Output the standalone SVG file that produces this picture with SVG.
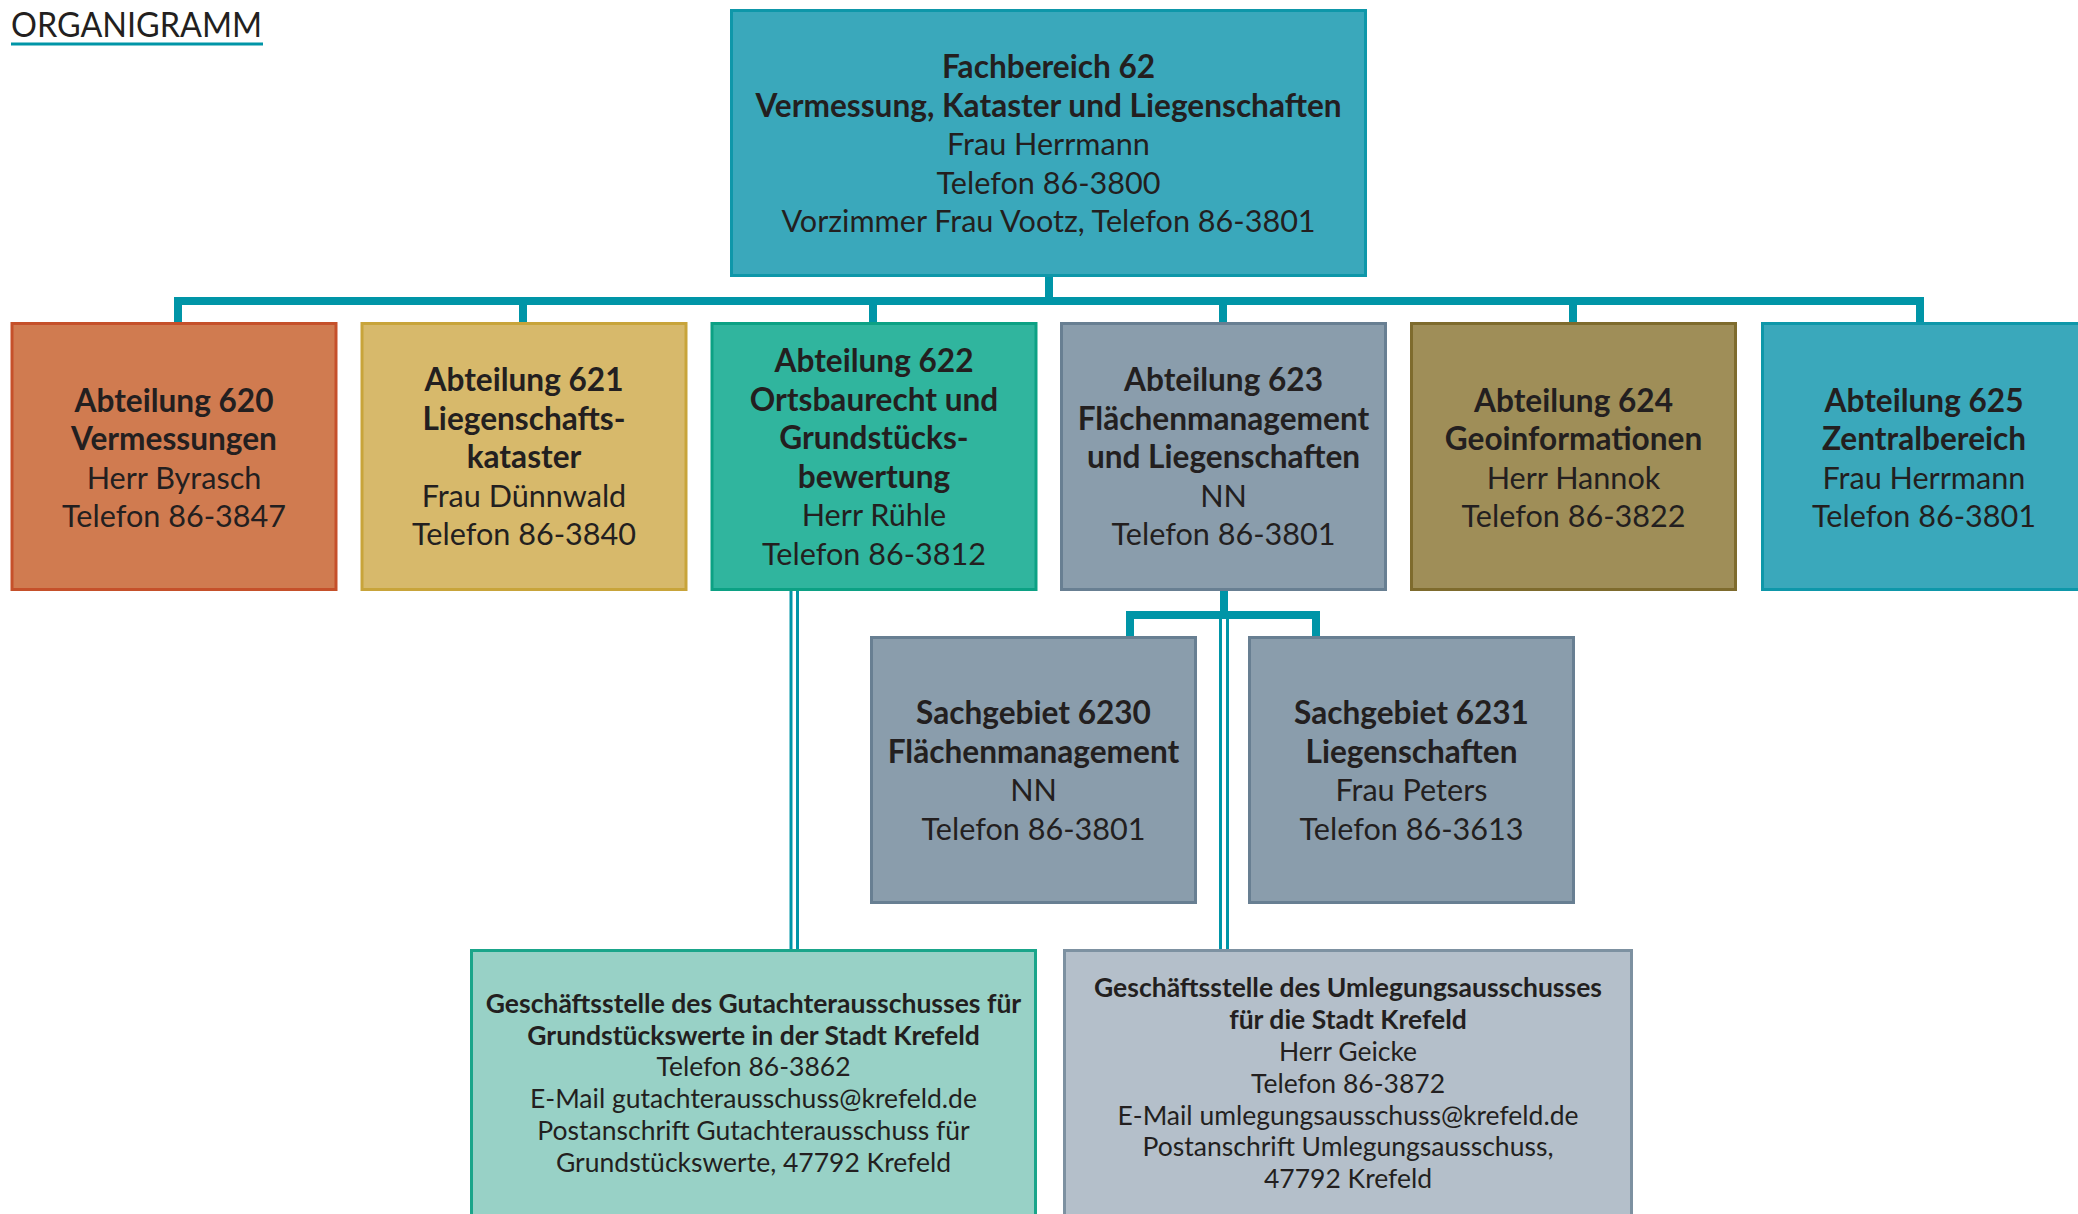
<svg xmlns="http://www.w3.org/2000/svg" width="2078" height="1214" viewBox="0 0 2078 1214">
<style>
text{font-family:Lato,"Open Sans","Liberation Sans",sans-serif;fill:#231f20;text-anchor:middle}
.m{font-size:30.6px}
.s{font-size:26.5px}
.m.b{font-size:31.6px}
.b{font-weight:700}
.box{stroke-width:3}
.c{fill:#0095a7}
</style>
<rect width="2078" height="1214" fill="#ffffff"/>
<g id="title">
<text x="11" y="37" style="text-anchor:start;font-size:34px" textLength="251" lengthAdjust="spacingAndGlyphs">ORGANIGRAMM</text>
<rect x="11" y="42.5" width="252" height="3" class="c"/>
</g>
<g id="connectors">
<rect class="c" x="1045" y="276" width="8" height="24"/>
<rect class="c" x="174" y="297" width="1750" height="8"/>
<rect class="c" x="174" y="300" width="8" height="23"/>
<rect class="c" x="519" y="300" width="8" height="23"/>
<rect class="c" x="869" y="300" width="8" height="23"/>
<rect class="c" x="1219" y="300" width="8" height="23"/>
<rect class="c" x="1569" y="300" width="8" height="23"/>
<rect class="c" x="1916" y="300" width="8" height="23"/>
<rect class="c" x="1220" y="589" width="8" height="25"/>
<rect class="c" x="1126" y="611" width="194" height="8"/>
<rect class="c" x="1126" y="611" width="8" height="26"/>
<rect class="c" x="1312" y="611" width="8" height="26"/>
<rect class="c" x="789.5" y="589" width="3" height="362"/>
<rect class="c" x="796" y="589" width="3" height="362"/>
<rect class="c" x="1219" y="617" width="3" height="334"/>
<rect class="c" x="1226" y="617" width="3" height="334"/>
</g>
<g id="fb62">
<rect class="box" x="731.5" y="10.5" width="634" height="265" fill="#3aa8bb" stroke="#0e97a9"/>
<text class="m b" x="1048.5" y="78">Fachbereich 62</text>
<text class="m b" x="1048.5" y="116.5">Vermessung, Kataster und Liegenschaften</text>
<text class="m" x="1048.5" y="155">Frau Herrmann</text>
<text class="m" x="1048.5" y="193.5">Telefon 86-3800</text>
<text class="m" x="1048.5" y="232">Vorzimmer Frau Vootz, Telefon 86-3801</text>
</g>
<g id="a620">
<rect class="box" x="12" y="323.5" width="324" height="266" fill="#d07b50" stroke="#c5502a"/>
<text class="m b" x="174" y="411.5">Abteilung 620</text>
<text class="m b" x="174" y="450">Vermessungen</text>
<text class="m" x="174" y="488.5">Herr Byrasch</text>
<text class="m" x="174" y="527">Telefon 86-3847</text>
</g>
<g id="a621">
<rect class="box" x="362" y="323.5" width="324" height="266" fill="#d7b96b" stroke="#c8a43a"/>
<text class="m b" x="524" y="391">Abteilung 621</text>
<text class="m b" x="524" y="429.5">Liegenschafts-</text>
<text class="m b" x="524" y="468">kataster</text>
<text class="m" x="524" y="506.5">Frau Dünnwald</text>
<text class="m" x="524" y="545">Telefon 86-3840</text>
</g>
<g id="a622">
<rect class="box" x="712" y="323.5" width="324" height="266" fill="#30b59e" stroke="#0ca184"/>
<text class="m b" x="874" y="372">Abteilung 622</text>
<text class="m b" x="874" y="410.5">Ortsbaurecht und</text>
<text class="m b" x="874" y="449">Grundstücks-</text>
<text class="m b" x="874" y="487.5">bewertung</text>
<text class="m" x="874" y="526">Herr Rühle</text>
<text class="m" x="874" y="564.5">Telefon 86-3812</text>
</g>
<g id="a623">
<rect class="box" x="1061.5" y="323.5" width="324" height="266" fill="#8a9dac" stroke="#687f92"/>
<text class="m b" x="1223.5" y="391">Abteilung 623</text>
<text class="m b" x="1223.5" y="429.5">Flächenmanagement</text>
<text class="m b" x="1223.5" y="468">und Liegenschaften</text>
<text class="m" x="1223.5" y="506.5">NN</text>
<text class="m" x="1223.5" y="545">Telefon 86-3801</text>
</g>
<g id="a624">
<rect class="box" x="1411.5" y="323.5" width="324" height="266" fill="#9f8e58" stroke="#7e6b2d"/>
<text class="m b" x="1573.5" y="411.5">Abteilung 624</text>
<text class="m b" x="1573.5" y="450">Geoinformationen</text>
<text class="m" x="1573.5" y="488.5">Herr Hannok</text>
<text class="m" x="1573.5" y="527">Telefon 86-3822</text>
</g>
<g id="a625">
<rect class="box" x="1762.5" y="323.5" width="324" height="266" fill="#3aa8bb" stroke="#0e97a9"/>
<text class="m b" x="1924" y="411.5">Abteilung 625</text>
<text class="m b" x="1924" y="450">Zentralbereich</text>
<text class="m" x="1924" y="488.5">Frau Herrmann</text>
<text class="m" x="1924" y="527">Telefon 86-3801</text>
</g>
<g id="s6230">
<rect class="box" x="871.5" y="637.5" width="324" height="265" fill="#8a9dac" stroke="#687f92"/>
<text class="m b" x="1033.5" y="724">Sachgebiet 6230</text>
<text class="m b" x="1033.5" y="762.5">Flächenmanagement</text>
<text class="m" x="1033.5" y="801">NN</text>
<text class="m" x="1033.5" y="839.5">Telefon 86-3801</text>
</g>
<g id="s6231">
<rect class="box" x="1249.5" y="637.5" width="324" height="265" fill="#8a9dac" stroke="#687f92"/>
<text class="m b" x="1411.5" y="724">Sachgebiet 6231</text>
<text class="m b" x="1411.5" y="762.5">Liegenschaften</text>
<text class="m" x="1411.5" y="801">Frau Peters</text>
<text class="m" x="1411.5" y="839.5">Telefon 86-3613</text>
</g>
<g id="gutachter">
<rect class="box" x="471.5" y="950.5" width="564" height="280" fill="#98d1c6" stroke="#1aa58a"/>
<text class="s b" x="753.5" y="1012.5">Geschäftsstelle des Gutachterausschusses für</text>
<text class="s b" x="753.5" y="1044.5">Grundstückswerte in der Stadt Krefeld</text>
<text class="s" x="753.5" y="1076.3">Telefon 86-3862</text>
<text class="s" x="753.5" y="1108">E-Mail gutachterausschuss@krefeld.de</text>
<text class="s" x="753.5" y="1140">Postanschrift Gutachterausschuss für</text>
<text class="s" x="753.5" y="1171.7">Grundstückswerte, 47792 Krefeld</text>
</g>
<g id="umlegung">
<rect class="box" x="1064.5" y="950.5" width="567" height="280" fill="#b4bfca" stroke="#7d91a1"/>
<text class="s b" x="1348" y="997.3">Geschäftsstelle des Umlegungsausschusses</text>
<text class="s b" x="1348" y="1029.2">für die Stadt Krefeld</text>
<text class="s" x="1348" y="1061">Herr Geicke</text>
<text class="s" x="1348" y="1092.8">Telefon 86-3872</text>
<text class="s" x="1348" y="1124.6">E-Mail umlegungsausschuss@krefeld.de</text>
<text class="s" x="1348" y="1156.4">Postanschrift Umlegungsausschuss,</text>
<text class="s" x="1348" y="1188.2">47792 Krefeld</text>
</g>
</svg>
